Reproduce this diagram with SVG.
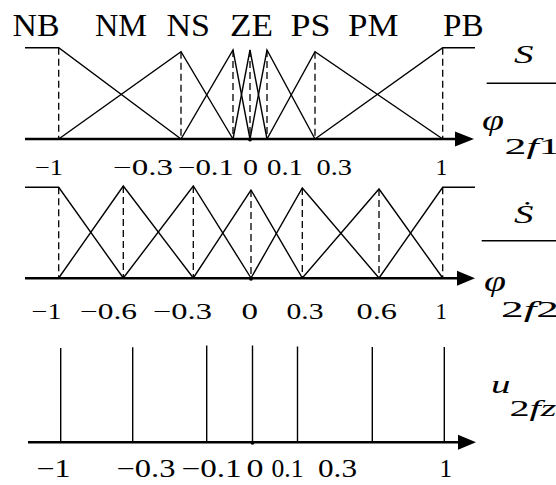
<svg xmlns="http://www.w3.org/2000/svg" width="556" height="485" viewBox="0 0 556 485">
<defs>
<style>
.bg{fill:#fff}
.mf{fill:none;stroke:#000;stroke-width:1.4;stroke-linejoin:miter}
.dash{fill:none;stroke:#000;stroke-width:1.3;stroke-dasharray:7 4}
.axis{fill:none;stroke:#000;stroke-width:2.6}
.vl{fill:none;stroke:#000;stroke-width:1.4}
.arr{fill:#000}
.lab{font-family:"Liberation Serif","Times New Roman",serif;font-size:31px;fill:#000}
.num{font-family:"Liberation Serif","Times New Roman",serif;font-size:22.5px;fill:#000}
.num3{font-family:"Liberation Serif","Times New Roman",serif;font-size:25px;fill:#000}
.it{font-family:"Liberation Serif","DejaVu Serif","Times New Roman",serif;font-style:italic;font-size:25px;fill:#000}
.phi{font-family:"Liberation Serif","DejaVu Serif","Times New Roman",serif;font-style:italic;font-size:29px;fill:#000}
.sub{font-family:"Liberation Serif","Times New Roman",serif;font-size:24px;fill:#000}
.i{font-style:italic}
.frac{stroke:#000;stroke-width:1.4}
</style>
</defs>
<rect class="bg" x="0" y="0" width="556" height="485"/>

<g id="panel-s">
  <g id="s-labels">
    <text class="lab" x="12.5" y="36" textLength="47" lengthAdjust="spacingAndGlyphs">NB</text>
    <text class="lab" x="95" y="36" textLength="52" lengthAdjust="spacingAndGlyphs">NM</text>
    <text class="lab" x="166.5" y="36" textLength="43.5" lengthAdjust="spacingAndGlyphs">NS</text>
    <text class="lab" x="230" y="36" textLength="43" lengthAdjust="spacingAndGlyphs">ZE</text>
    <text class="lab" x="290.5" y="36" textLength="40" lengthAdjust="spacingAndGlyphs">PS</text>
    <text class="lab" x="348" y="36" textLength="50.5" lengthAdjust="spacingAndGlyphs">PM</text>
    <text class="lab" x="443" y="36" textLength="40.5" lengthAdjust="spacingAndGlyphs">PB</text>
  </g>
  <g id="s-dashes">
    <path class="dash" d="M58.7,47.7V139 M181,51.7V139 M233,50V139 M250,50V139 M267,50V139 M315,51.7V139 M442.7,47.7V139"/>
  </g>
  <g id="s-mf">
    <path class="mf" d="M25,47.7H58.7L181,139"/>
    <path class="mf" d="M58.7,139L181,51.7L233,139"/>
    <path class="mf" d="M181,139L233,50L250,139"/>
    <path class="mf" d="M233,139L250,50L267,139"/>
    <path class="mf" d="M250,139L267,50L315,139"/>
    <path class="mf" d="M267,139L315,51.7L442.7,139"/>
    <path class="mf" d="M315,139L442.7,47.7H475"/>
  </g>
  <g id="s-axis">
    <path class="axis" d="M25,139H460"/>
    <path class="arr" d="M474,139L455,131.5V146.5Z"/>
    <circle class="arr" cx="250" cy="139.5" r="2"/>
  </g>
  <g id="s-ticks">
    <text class="num" x="35" y="175" textLength="28" lengthAdjust="spacingAndGlyphs">−1</text>
    <text class="num" x="113" y="175" textLength="60" lengthAdjust="spacingAndGlyphs">−0.3</text>
    <text class="num" x="178" y="175" textLength="56" lengthAdjust="spacingAndGlyphs">−0.1</text>
    <text class="num" x="243" y="175" textLength="15" lengthAdjust="spacingAndGlyphs">0</text>
    <text class="num" x="267" y="175" textLength="36" lengthAdjust="spacingAndGlyphs">0.1</text>
    <text class="num" x="316.5" y="175" textLength="35.5" lengthAdjust="spacingAndGlyphs">0.3</text>
    <text class="num" x="435.5" y="175" textLength="12" lengthAdjust="spacingAndGlyphs">1</text>
  </g>
  <g id="s-name">
    <text class="it" x="514" y="63.3" textLength="19.5" lengthAdjust="spacingAndGlyphs">S</text>
    <line class="frac" x1="486.7" y1="83.3" x2="556" y2="83.3"/>
    <text class="phi" x="482" y="130" textLength="22" lengthAdjust="spacingAndGlyphs">φ</text>
    <text class="sub" x="504.5" y="153.5" textLength="56" lengthAdjust="spacingAndGlyphs">2<tspan class="i">f</tspan>1</text>
  </g>
</g>

<g id="panel-sdot">
  <g id="d-dashes">
    <path class="dash" d="M58.7,187.3V278 M123.3,186V278 M193.3,186V278 M251,190V278 M302.3,188V278 M379,189V278 M442.7,187.3V278"/>
  </g>
  <g id="d-mf">
    <path class="mf" d="M25,187.3H58.7L123.3,278"/>
    <path class="mf" d="M58.7,278L123.3,186L193.3,278"/>
    <path class="mf" d="M123.3,278L193.3,186L251,278"/>
    <path class="mf" d="M193.3,278L251,190L302.3,278"/>
    <path class="mf" d="M251,278L302.3,188L379,278"/>
    <path class="mf" d="M302.3,278L379,189L442.7,278"/>
    <path class="mf" d="M379,278L442.7,187.3H475"/>
  </g>
  <g id="d-axis">
    <path class="axis" d="M25,278.3H462"/>
    <path class="arr" d="M475,278.3L457,270.8V285.8Z"/>
    <circle class="arr" cx="251" cy="278.8" r="2"/>
  </g>
  <g id="d-ticks">
    <text class="num" x="31.5" y="319" textLength="30" lengthAdjust="spacingAndGlyphs">−1</text>
    <text class="num" x="80" y="319" textLength="57" lengthAdjust="spacingAndGlyphs">−0.6</text>
    <text class="num" x="153" y="319" textLength="59" lengthAdjust="spacingAndGlyphs">−0.3</text>
    <text class="num" x="241.5" y="319" textLength="16.5" lengthAdjust="spacingAndGlyphs">0</text>
    <text class="num" x="286.5" y="319" textLength="37" lengthAdjust="spacingAndGlyphs">0.3</text>
    <text class="num" x="356.5" y="319" textLength="40.5" lengthAdjust="spacingAndGlyphs">0.6</text>
    <text class="num" x="435.5" y="319" textLength="11.5" lengthAdjust="spacingAndGlyphs">1</text>
  </g>
  <g id="d-name">
    <text class="it" x="514" y="223.3" textLength="19.5" lengthAdjust="spacingAndGlyphs">Ṡ</text>
    <line class="frac" x1="481.7" y1="240.7" x2="556" y2="240.7"/>
    <text class="phi" x="484" y="291" textLength="22" lengthAdjust="spacingAndGlyphs">φ</text>
    <text class="sub" x="501" y="316.5" textLength="58" lengthAdjust="spacingAndGlyphs">2<tspan class="i">f</tspan>2</text>
  </g>
</g>

<g id="panel-u">
  <g id="u-lines">
    <path class="vl" d="M60.7,348V442 M132.7,347.3V442 M206.7,345.5V442 M252.5,345.5V442 M297.5,346.5V442 M372.3,347V442 M444.3,347V442"/>
  </g>
  <g id="u-axis">
    <path class="axis" d="M28,442.3H462"/>
    <path class="arr" d="M476,442.3L458,434.8V449.8Z"/>
    <circle class="arr" cx="252.5" cy="442.8" r="2"/>
  </g>
  <g id="u-ticks">
    <text class="num3" x="36.5" y="477" textLength="34" lengthAdjust="spacingAndGlyphs">−1</text>
    <text class="num3" x="116.5" y="477" textLength="59" lengthAdjust="spacingAndGlyphs">−0.3</text>
    <text class="num3" x="181.5" y="477" textLength="60" lengthAdjust="spacingAndGlyphs">−0.1</text>
    <text class="num3" x="246.5" y="477" textLength="17" lengthAdjust="spacingAndGlyphs">0</text>
    <text class="num3" x="271.5" y="477" textLength="32" lengthAdjust="spacingAndGlyphs">0.1</text>
    <text class="num3" x="318" y="477" textLength="39" lengthAdjust="spacingAndGlyphs">0.3</text>
    <text class="num3" x="439.5" y="477" textLength="12.5" lengthAdjust="spacingAndGlyphs">1</text>
  </g>
  <g id="u-name">
    <text class="it" x="491" y="393.3" textLength="19.5" lengthAdjust="spacingAndGlyphs">u</text>
    <text class="sub" x="509.5" y="416" textLength="47" lengthAdjust="spacingAndGlyphs">2<tspan class="i">fz</tspan></text>
  </g>
</g>
</svg>
